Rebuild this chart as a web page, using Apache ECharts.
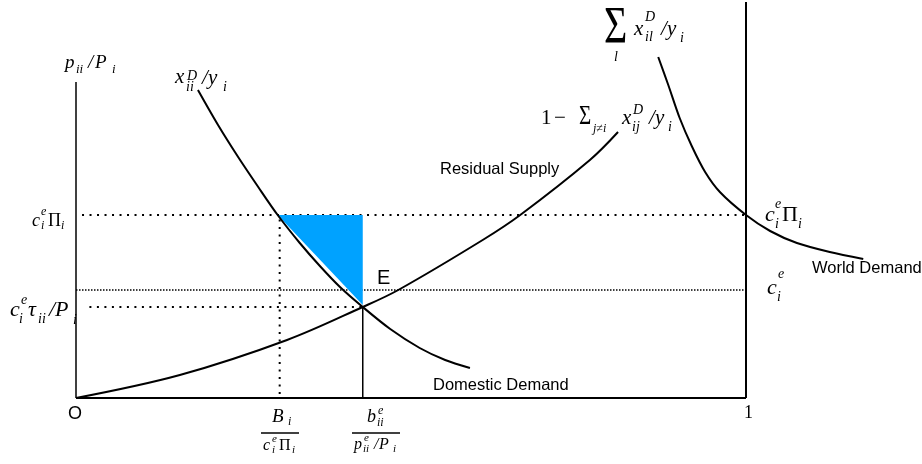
<!DOCTYPE html>
<html><head><meta charset="utf-8">
<script src="https://cdn.jsdelivr.net/npm/echarts@6/dist/echarts.min.js"></script>
<style>html,body{margin:0;padding:0;background:#fff}#c{width:922px;height:464px}</style>
</head><body><div id="c"></div>
<script>
// ---- data (x = share of expenditure, y = price level units) ----
const demandX = [0.182,0.212,0.242,0.272,0.301,0.334,0.364,0.394,0.428,0.469,0.513,0.551,0.588];
const demandY = [308,273,241,211,183,155,132,111,91,69,50,38,30];
const supplyX = [0,0.155,0.315,0.428,0.481,0.607,0.663,0.767,0.809];
const supplyY = [0,23,58,91,108,158,183,238,266];
const worldX = [0.869,0.884,0.901,0.919,0.939,0.961,1.0,1.036,1.076,1.125,1.175];
const worldY = [341,313,280,252,226,206,183,167,155,146,139];
const triX = [0.301,0.428,0.428];
const triY = [183,183,93];
const levelPi = 183;   // c_i^e Pi_i
const levelCe = 108;   // c_i^e
const levelTau = 91;   // c_i^e tau_ii / P_i (equilibrium E)
const xB = 0.304;      // B_i / (c_i^e Pi_i)
const xE = 0.428;      // b_ii^e / (p_ii^e/P_i)
const yTop = 398;

const SERIF = '"Liberation Serif","Times New Roman",serif';
const SANS = '"Liberation Sans",Arial,sans-serif';
function T(str, x, bl, size, kind, sy){
  const italic = kind === 'i';
  const fam = kind === 's' ? SANS : SERIF;
  return {type:'text', x:x, y:bl, scaleY: sy || 1, silent:true,
    style:{text:str, x:0, y:-0.34*size, font:(italic?'italic ':'')+size+'px '+fam, fill:'#000',
      textAlign:'left', textVerticalAlign:'middle', align:'left', verticalAlign:'middle'}};
}
const texts = [
  // p_ii/P_i
  ['p',65,69,19,'i'],['ii',76,74,13,'i'],['/',88,69,19,'i'],['P',95,69,19,'i'],['i',112,74,13,'i'],
  // x_ii^D/y_i
  ['x',175,85,21,'i'],['D',187,81,14,'i'],['ii',186,92,14,'i'],['/',202,86,21,'i'],['y',208,86,21,'i'],['i',223,92,14,'i'],
  // sum_l x_il^D / y_i
  ['Σ',604,47,40,'r',1.32],['l',614,62,14,'i'],['x',634,37,21,'i'],['D',645,22,14,'i'],['il',645,42,14,'i'],['/',661,37,21,'i'],['y',667,37,21,'i'],['i',680,43,14,'i'],
  // 1 - sum_{j!=i} x_ij^D / y_i
  ['1',541,126,21,'r'],['−',554,126,21,'r'],['Σ',579,126,21,'r',1.35],['j≠i',593,133,12,'i'],['x',622,126,21,'i'],['D',633,115,14,'i'],['ij',632,132,14,'i'],['/',649,126,21,'i'],['y',655,126,21,'i'],['i',668,132,14,'i'],
  // left c_i^e Pi_i
  ['c',32,227,18,'i'],['e',41,216,12,'i'],['i',41,230,12,'i'],['Π',48,227,18,'r'],['i',61,230,12,'i'],
  // c_i^e tau_ii / P_i
  ['c',10,318,22,'i'],['e',21,305,14,'i'],['i',19,324,14,'i'],['τ',28,318,22,'i'],['ii',38,324,14,'i'],['/',49,318,22,'i'],['P',55,318,22,'i'],['i',73,325,14,'i'],
  // right c_i^e Pi_i
  ['c',765,223,22,'i'],['e',775,209,14,'i'],['i',775,229,14,'i'],['Π',782,223,22,'r'],['i',798,229,14,'i'],
  // right c_i^e
  ['c',767,296,22,'i'],['e',778,279,14,'i'],['i',777,302,14,'i'],
  // fraction B_i / c_i^e Pi_i
  ['B',272,423,19,'i'],['i',288,426,12,'i'],
  ['c',263,451,16,'i'],['e',272,443,11,'i'],['i',272,454,11,'i'],['Π',279,451,16,'r'],['i',292,454,11,'i'],
  // fraction b_ii^e / p_ii^e/P_i
  ['b',367,423,18,'i'],['e',378,415,12,'i'],['ii',377,427,12,'i'],
  ['p',354,450,16,'i'],['e',364,442,11,'i'],['ii',363,453,11,'i'],['/',374,450,16,'i'],['P',379,450,16,'i'],['i',393,453,11,'i'],
  // plain labels
  ['Residual Supply',440,175,16.5,'s'],['Domestic Demand',433,391,16.5,'s'],['World Demand',812,274,16.5,'s'],
  ['E',377,285,20,'s'],['O',68,420,18,'s'],['1',744,419,18,'r']
];
const graphicEls = texts.map(a => T(a[0],a[1],a[2],a[3],a[4],a[5]));
graphicEls.push({type:'line', silent:true, shape:{x1:261,y1:433,x2:299,y2:433}, style:{stroke:'#000', lineWidth:1.5}});
graphicEls.push({type:'line', silent:true, shape:{x1:352,y1:433,x2:400,y2:433}, style:{stroke:'#000', lineWidth:1.5}});

function pairs(xs, ys){ return xs.map((x,i)=>[x, ys[i]]); }
function L(data, style, smooth, z){
  return {type:'line', data:data, symbol:'none', showSymbol:false, smooth: smooth || false,
    lineStyle:style, silent:true, z:z || 3, animation:false};
}
const solid = w => ({color:'#000', width:w, type:'solid'});
const dots = {color:'#000', width:2, type:[2,5.5]};
const fine = {color:'#000', width:1.5, type:[1.5,1.5]};

const chart = echarts.init(document.getElementById('c'), null, {renderer:'canvas'});
chart.setOption({
  animation:false,
  backgroundColor:'#fff',
  grid:{left:76, right:0, top:0, bottom:66},
  xAxis:{type:'value', min:0, max:846/670, show:false},
  yAxis:{type:'value', min:0, max:yTop, show:false},
  series:[
    L([[0.009,levelPi],[1,levelPi]], dots, false, 2),
    L([[0,levelCe],[1,levelCe]], fine, false, 2),
    L([[0.02,levelTau],[xE,levelTau]], dots, false, 2),
    L([[xB,4],[xB,levelPi]], dots, false, 2),
    {type:'custom', z:3, silent:true, data: pairs(triX, triY),
      renderItem:(params, api) => {
        if (params.dataIndex !== 0) return null;
        const pts = triX.map((x,i)=>api.coord([x, triY[i]]));
        return {type:'polygon', shape:{points:pts}, style:{fill:'#00A2FF'}};
      }},
    L([[xE,0],[xE,levelTau]], solid(1.5), false, 4),
    L([[0,0],[0,316]], solid(1.5), false, 4),
    L([[0,0],[1,0]], solid(2), false, 4),
    L([[1,0],[1,396]], solid(2), false, 4),
    L(pairs(demandX, demandY), solid(2), 0.3, 5),
    L(pairs(supplyX, supplyY), solid(2), 0.35, 5),
    L(pairs(worldX, worldY), solid(2), 0.3, 5)
  ],
  graphic:{elements: graphicEls}
});
</script></body></html>
